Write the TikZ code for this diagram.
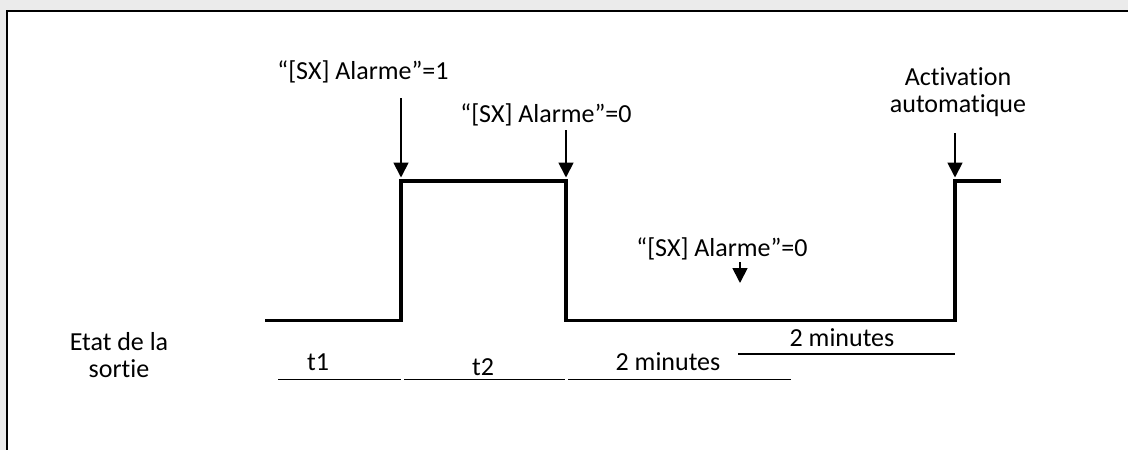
\documentclass[tikz,border=0pt]{standalone}
\usepackage{fontspec}
\setmainfont{Carlito}[Ligatures={NoCommon}]
\usetikzlibrary{arrows.meta}
\definecolor{bggray}{HTML}{EBEBEB}
\begin{document}
\begin{tikzpicture}[x=1pt,y=-1pt,
  lbl/.style={font=\fontsize{26}{27}\selectfont, inner sep=0pt, align=center},
  signal/.style={line width=3.8pt, line join=miter, line cap=butt},
  arr/.style={line width=1.8pt, -{Triangle[width=15pt,length=15pt]}},
  tickline/.style={line width=1.6pt}]
\fill[bggray] (0,0) rectangle (1128,450);
\useasboundingbox (0,0) rectangle (1128,450);
\begin{scope}
\clip (0,0) rectangle (1128,450);
\draw[line width=2pt, fill=white] (6.5,10.5) rectangle (1150,470);
\end{scope}
% signal
\coordinate (s0) at (265,320.5);
\coordinate (s1) at (401,320.5);
\coordinate (s2) at (401,181);
\coordinate (s3) at (566,181);
\coordinate (s4) at (566,320.5);
\coordinate (s5) at (955,320.5);
\coordinate (s6) at (955,181);
\coordinate (s7) at (1001,181);
\draw[signal] (s0) -- (s1) -- (s2) -- (s3) -- (s4) -- (s5) -- (s6) -- (s7);
% labels
\node[lbl] (l1) at (363,72) {“[SX] Alarme”=1};
\node[lbl] (l2) at (546,115) {“[SX] Alarme”=0};
\node[lbl] (l3) at (722,249) {“[SX] Alarme”=0};
\node[lbl] (l4) at (958,92) {Activation\\automatique};
\node[lbl] (etat) at (119,355) {Etat de la\\sortie};
% arrows
\coordinate (a1s) at (401,98);
\coordinate (a2s) at (566,130);
\coordinate (a3s) at (740,262);
\coordinate (a3e) at (740,283);
\coordinate (a4s) at (955,133);
\draw[arr, shorten >=3.5pt] (a1s) -- (s2);
\draw[arr, shorten >=3.5pt] (a2s) -- (s3);
\draw[arr] (a3s) -- (a3e);
\draw[arr, shorten >=3.5pt] (a4s) -- (s6);
% time segments
\coordinate (t1a) at (278,379.5); \coordinate (t1b) at (401,379.5);
\coordinate (t2a) at (404,379.5); \coordinate (t2b) at (565,379.5);
\coordinate (t3a) at (568,379.5); \coordinate (t3b) at (791,379.5);
\coordinate (t4a) at (738,354); \coordinate (t4b) at (955,354);
\draw[tickline] (t1a) -- (t1b);
\draw[tickline] (t2a) -- (t2b);
\draw[tickline] (t3a) -- (t3b);
\draw[tickline] (t4a) -- (t4b);
\node[lbl] (n1) at (318,362) {t1};
\node[lbl] (n2) at (483,367) {t2};
\node[lbl] (n3) at (668,362) {2 minutes};
\node[lbl] (n4) at (842,338) {2 minutes};
\end{tikzpicture}
\end{document}
